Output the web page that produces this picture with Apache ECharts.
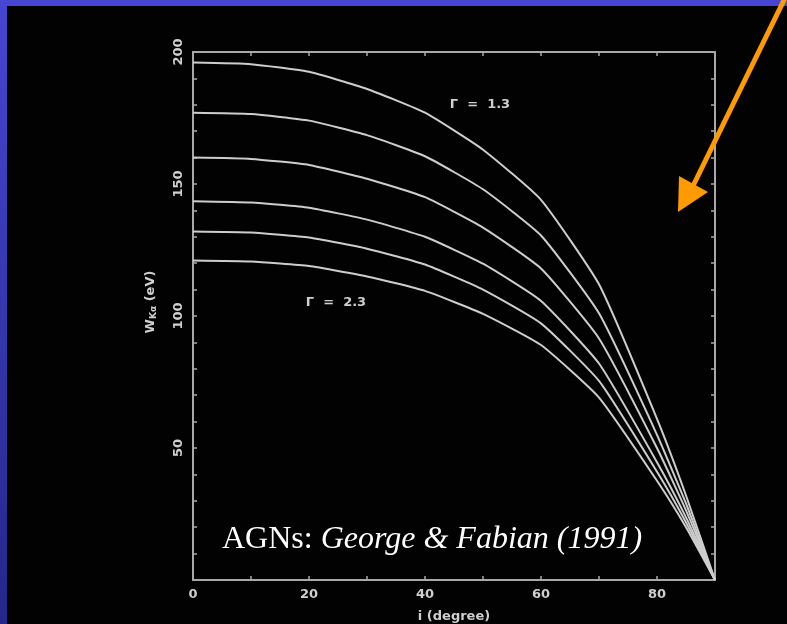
<!DOCTYPE html>
<html>
<head>
<meta charset="utf-8">
<script src="https://cdn.jsdelivr.net/npm/echarts@6/dist/echarts.min.js"></script>
<style>
  html, body { margin: 0; padding: 0; background: #000; }
  #chart { width: 787px; height: 624px; }
</style>
</head>
<body>
<div id="chart"></div>
<script>
// Inclination angle i (degrees)
var angles = [0, 10, 20, 30, 40, 50, 60, 70, 80, 85, 90];

// Fe K-alpha equivalent width (eV) for photon indices from 1.3 (top) to 2.3 (bottom)
var ewGamma13 = [196, 195.4, 192.5, 186, 177, 163, 144, 112, 61, 32, 0];
var ewGamma15 = [177, 176.5, 174, 168.5, 160.5, 148, 130.5, 101, 55, 29, 0];
var ewGamma17 = [160, 159.5, 157.2, 152, 145, 133.5, 118, 91.5, 50, 26.4, 0];
var ewGamma19 = [143.5, 143, 141, 136.5, 130, 119.8, 105.7, 82, 44.6, 23.7, 0];
var ewGamma21 = [132, 131.6, 129.7, 125.5, 119.5, 110, 97.2, 75.4, 41, 21.8, 0];
var ewGamma23 = [121, 120.6, 118.9, 115, 109.5, 100.8, 89, 69.1, 37.6, 20, 0];

var xTicks = [0, 20, 40, 60, 80];
var yTicks = [50, 100, 150, 200];

var curves = [ewGamma13, ewGamma15, ewGamma17, ewGamma19, ewGamma21, ewGamma23];

function pairs(values) {
  return angles.map(function (a, k) { return [a, values[k]]; });
}

var axisGray = '#a8a8a8';
var labelGray = '#cfcfcf';
var tickFont = 'DejaVu Sans';
var tickSize = 13;

var chart = echarts.init(document.getElementById('chart'), null, { renderer: 'canvas' });

function frameAxis(pos, isX, showLabels) {
  var ax = {
    type: 'value',
    position: pos,
    min: 0,
    max: isX ? 90 : 200,
    interval: 10,
    axisLine: { show: true, onZero: false, lineStyle: { color: axisGray, width: 2 } },
    axisTick: { show: true, inside: true, length: 4, lineStyle: { color: axisGray, width: 1.5 } },
    splitLine: { show: false },
    axisLabel: { show: false }
  };
  if (showLabels) {
    var list = isX ? xTicks : yTicks;
    ax.axisLabel = {
      show: true,
      color: labelGray,
      fontFamily: tickFont,
      fontSize: tickSize,
      fontWeight: 'bold',
      margin: 8,
      rotate: isX ? 0 : 90,
      formatter: function (v) { return list.indexOf(v) >= 0 ? String(v) : ''; }
    };
  }
  return ax;
}

var xBottom = frameAxis('bottom', true, true);
xBottom.name = 'i (degree)';
xBottom.nameLocation = 'middle';
xBottom.nameGap = 30;
xBottom.nameTextStyle = { color: labelGray, fontFamily: tickFont, fontSize: tickSize, fontWeight: 'bold' };

var yLeft = frameAxis('left', false, true);
yLeft.name = 'W{sub|Kα} (eV)';
yLeft.nameLocation = 'middle';
yLeft.nameGap = 35;
yLeft.nameRotate = 90;
yLeft.nameTextStyle = {
  color: labelGray, fontFamily: tickFont, fontSize: tickSize, fontWeight: 'bold',
  padding: [0, 0, 0, 28],
  rich: { sub: { fontSize: 9, color: labelGray, fontFamily: tickFont, fontWeight: 'bold', verticalAlign: 'bottom', padding: [5, 0, 0, 0] } }
};

var series = curves.map(function (vals) {
  return {
    type: 'line',
    xAxisIndex: 0,
    yAxisIndex: 0,
    data: pairs(vals),
    showSymbol: false,
    smooth: 0.15,
    silent: true,
    lineStyle: { color: '#cdcdcd', width: 2 }
  };
});

var option = {
  backgroundColor: '#020202',
  animation: false,
  grid: { left: 193, right: 72, top: 52, bottom: 44, containLabel: false, outerBoundsMode: 'none' },
  xAxis: [xBottom, frameAxis('top', true, false)],
  yAxis: [yLeft, frameAxis('right', false, false)],
  series: series,
  graphic: [
    {
      type: 'rect', silent: true, z: 100,
      shape: { x: 0, y: 0, width: 787, height: 6 },
      style: { fill: '#4646d2' }
    },
    {
      type: 'rect', silent: true, z: 100,
      shape: { x: 0, y: 0, width: 7, height: 624 },
      style: {
        fill: new echarts.graphic.LinearGradient(0, 0, 0, 1, [
          { offset: 0, color: '#4646d2' },
          { offset: 1, color: '#26268c' }
        ])
      }
    },
    {
      type: 'text', silent: true, z: 50,
      style: {
        x: 480, y: 105, text: 'Γ  =  1.3', align: 'center', verticalAlign: 'middle',
        fill: labelGray, font: 'bold 13px "DejaVu Sans"'
      }
    },
    {
      type: 'text', silent: true, z: 50,
      style: {
        x: 336, y: 303, text: 'Γ  =  2.3', align: 'center', verticalAlign: 'middle',
        fill: labelGray, font: 'bold 13px "DejaVu Sans"'
      }
    },
    {
      type: 'text', silent: true, z: 60,
      style: {
        x: 222, y: 556,
        text: '{n|AGNs: }{i|George & Fabian (1991)}',
        verticalAlign: 'bottom',
        rich: {
          n: { fill: '#ffffff', fontFamily: 'Liberation Serif', fontSize: 32 },
          i: { fill: '#ffffff', fontFamily: 'Liberation Serif', fontSize: 32, fontStyle: 'italic' }
        }
      }
    },
    {
      type: 'line', silent: true, z: 110,
      shape: { x1: 693, y1: 186, x2: 787, y2: -6 },
      style: { stroke: '#ff9a00', lineWidth: 5 }
    },
    {
      type: 'polygon', silent: true, z: 110,
      shape: { points: [[679, 176], [708, 192], [678, 212]] },
      style: { fill: '#ff9a00' }
    }
  ]
};

chart.setOption(option);
</script>
</body>
</html>
